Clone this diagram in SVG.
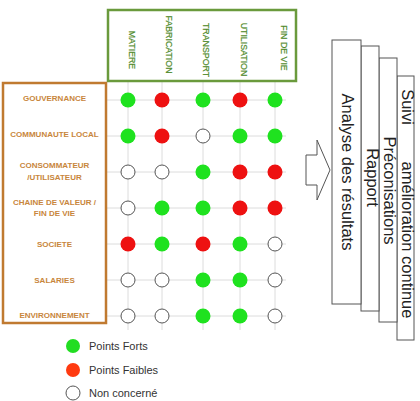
<svg xmlns="http://www.w3.org/2000/svg" width="420" height="401" viewBox="0 0 420 401">
<style>
.grid{stroke:#dcdcdc;stroke-width:1;fill:none}
.g{fill:#1fe21f}
.r{fill:#ee1111}
.e{fill:#fff;stroke:#555;stroke-width:1}
.lbl{font-family:"Liberation Sans",Arial,sans-serif;font-weight:bold;font-size:8px;fill:#c8863c;text-anchor:middle}
.hdr{font-family:"Liberation Sans",Arial,sans-serif;font-size:8.8px;fill:#4f8a2a;stroke:#4f8a2a;stroke-width:0.2;text-anchor:middle}
.box{fill:#fff;stroke:#555;stroke-width:1}
.big{font-family:"Liberation Sans",Arial,sans-serif;font-size:16.5px;fill:#222;text-anchor:middle}
.leg{font-family:"Liberation Sans",Arial,sans-serif;font-size:11px;fill:#333}
</style>
<rect width="420" height="401" fill="#fff"/>
<g id="grid-lines">
<g class="grid">
<line x1="107" y1="100" x2="286" y2="100"/>
<line x1="107" y1="136" x2="286" y2="136"/>
<line x1="107" y1="172" x2="286" y2="172"/>
<line x1="107" y1="208" x2="286" y2="208"/>
<line x1="107" y1="244" x2="286" y2="244"/>
<line x1="107" y1="280" x2="286" y2="280"/>
<line x1="107" y1="316" x2="286" y2="316"/>
<line x1="128" y1="81" x2="128" y2="330"/>
<line x1="162" y1="81" x2="162" y2="330"/>
<line x1="203" y1="81" x2="203" y2="330"/>
<line x1="240" y1="81" x2="240" y2="330"/>
<line x1="275" y1="81" x2="275" y2="330"/>
</g>
</g>
<g id="header">
<rect x="108" y="10" width="188" height="71" fill="none" stroke="#6a9a3c" stroke-width="2.5"/>
<text class="hdr" transform="translate(128.5,50) rotate(90)">MATIERE</text>
<text class="hdr" transform="translate(166,44.5) rotate(90)">FABRICATION</text>
<text class="hdr" transform="translate(203,50) rotate(90)">TRANSPORT</text>
<text class="hdr" transform="translate(240.5,49.5) rotate(90)">UTILISATION</text>
<text class="hdr" transform="translate(280.5,48) rotate(90)">FIN DE VIE</text>
</g>
<g id="rows">
<rect x="3" y="83" width="103" height="240" fill="none" stroke="#c07a30" stroke-width="2.5"/>
<text class="lbl" x="54.5" y="101">GOUVERNANCE</text>
<text class="lbl" x="54.5" y="137.3">COMMUNAUTE LOCAL</text>
<text class="lbl" x="54.5" y="168">CONSOMMATEUR</text>
<text class="lbl" x="54.5" y="179.7">/UTILISATEUR</text>
<text class="lbl" x="54.5" y="204.7">CHAINE DE VALEUR /</text>
<text class="lbl" x="54.5" y="215.7">FIN DE VIE</text>
<text class="lbl" x="54.5" y="247">SOCIETE</text>
<text class="lbl" x="54.5" y="283">SALARIES</text>
<text class="lbl" x="54.5" y="318">ENVIRONNEMENT</text>
</g>
<g id="matrix">
<circle class="g" cx="128" cy="100" r="7.5"/><circle class="r" cx="162" cy="100" r="7.5"/><circle class="g" cx="203" cy="100" r="7.5"/><circle class="r" cx="240" cy="100" r="7.5"/><circle class="g" cx="275" cy="100" r="7.5"/>
<circle class="g" cx="128" cy="136" r="7.5"/><circle class="r" cx="162" cy="136" r="7.5"/><circle class="e" cx="203" cy="136" r="7"/><circle class="g" cx="240" cy="136" r="7.5"/><circle class="g" cx="275" cy="136" r="7.5"/>
<circle class="e" cx="128" cy="172" r="7"/><circle class="e" cx="162" cy="172" r="7"/><circle class="g" cx="203" cy="172" r="7.5"/><circle class="r" cx="240" cy="172" r="7.5"/><circle class="r" cx="275" cy="172" r="7.5"/>
<circle class="e" cx="128" cy="208" r="7"/><circle class="g" cx="162" cy="208" r="7.5"/><circle class="g" cx="203" cy="208" r="7.5"/><circle class="r" cx="240" cy="208" r="7.5"/><circle class="r" cx="275" cy="208" r="7.5"/>
<circle class="r" cx="128" cy="244" r="7.5"/><circle class="g" cx="162" cy="244" r="7.5"/><circle class="r" cx="203" cy="244" r="7.5"/><circle class="g" cx="240" cy="244" r="7.5"/><circle class="e" cx="275" cy="244" r="7"/>
<circle class="e" cx="128" cy="280" r="7"/><circle class="e" cx="162" cy="280" r="7"/><circle class="g" cx="203" cy="280" r="7.5"/><circle class="g" cx="240" cy="280" r="7.5"/><circle class="e" cx="275" cy="280" r="7"/>
<circle class="e" cx="128" cy="316" r="7"/><circle class="e" cx="162" cy="316" r="7"/><circle class="g" cx="203" cy="316" r="7.5"/><circle class="g" cx="240" cy="316" r="7.5"/><circle class="e" cx="275" cy="316" r="7"/>
</g>
<g id="legend">
<circle cx="73" cy="346" r="7" fill="#22dd22"/>
<text class="leg" x="89" y="350">Points Forts</text>
<circle cx="73" cy="370" r="7" fill="#ff3a10"/>
<text class="leg" x="89" y="374">Points Faibles</text>
<circle cx="73" cy="393" r="7" fill="#fff" stroke="#555" stroke-width="1"/>
<text class="leg" x="89" y="397">Non concerné</text>
</g>
<g id="connectors">
<path d="M306,155 H317 V140 L330,170 L317,200 V185 H306 Z" fill="#fff" stroke="#555" stroke-width="1"/>
</g>
<g id="steps">
<g id="step4"><rect class="box" x="397" y="76" width="17" height="264"/>
<text class="big" transform="translate(401.5,107) rotate(90)">Suivi</text>
<text class="big" transform="translate(401.5,240) rotate(90)">amélioration continue</text></g>
<g id="step3"><rect class="box" x="379" y="58" width="18" height="264"/>
<text class="big" transform="translate(383.5,190.5) rotate(90)">Préconisations</text></g>
<g id="step2"><rect class="box" x="361" y="46" width="18" height="265"/>
<text class="big" transform="translate(366.5,177.5) rotate(90)">Rapport</text></g>
<g id="step1"><rect class="box" x="332" y="40" width="29" height="264"/>
<text class="big" transform="translate(341.5,172) rotate(90)">Analyse des résultats</text></g>
</g>
</svg>
